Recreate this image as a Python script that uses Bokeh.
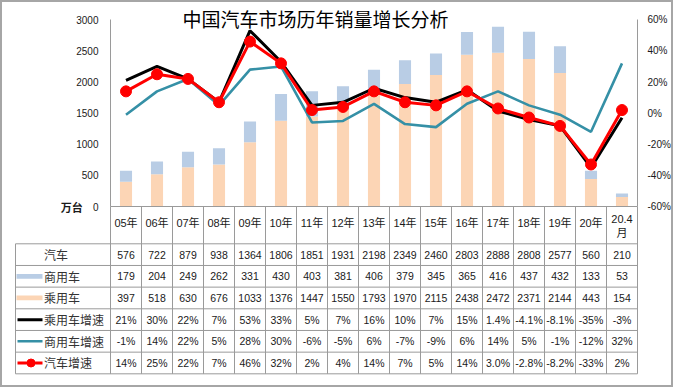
from bokeh.plotting import figure
from bokeh.models import Range1d, LinearAxis, FixedTicker, Label
from bokeh.core.properties import value
from bokeh.embed import file_html
from bokeh.resources import INLINE

# ---------------- data ----------------
categories = ["05年", "06年", "07年", "08年", "09年", "10年", "11年", "12年", "13年",
              "14年", "15年", "16年", "17年", "18年", "19年", "20年", "20.4\n月"]
total_sales = [576, 722, 879, 938, 1364, 1806, 1851, 1931, 2198, 2349, 2460, 2803, 2888, 2808, 2577, 560, 210]
commercial = [179, 204, 249, 262, 331, 430, 403, 381, 406, 379, 345, 365, 416, 437, 432, 133, 53]
passenger = [397, 518, 630, 676, 1033, 1376, 1447, 1550, 1793, 1970, 2115, 2438, 2472, 2371, 2144, 443, 154]
passenger_growth = [21, 30, 22, 7, 53, 33, 5, 7, 16, 10, 7, 15, 1.4, -4.1, -8.1, -35, -3]
commercial_growth = [-1, 14, 22, 5, 28, 30, -6, -5, 6, -7, -9, 6, 14, 5, -1, -12, 32]
total_growth = [14, 25, 22, 7, 46, 32, 2, 4, 14, 7, 5, 14, 3.0, -2.8, -8.2, -33, 2]
one_decimal_cols = [12, 13, 14]          # columns printed with one decimal in growth rows
left_ticks = [0, 500, 1000, 1500, 2000, 2500, 3000]
right_ticks = [-60, -40, -20, 0, 20, 40, 60]
row_names = ["汽车", "商用车", "乘用车", "乘用车增速", "商用车增速", "汽车增速"]
title_text = "中国汽车市场历年销量增长分析"

# ---------------- style ----------------
C_PASS = "#FCD5B5"
C_COMM = "#B9CDE5"
C_BLACK = "#000000"
C_TEAL = "#3590A6"
C_RED = "#FF0000"
C_GRID = "#9A9A9A"
C_TEXT = "#1A1A1A"
NUM_FONT_NAME = "Liberation Sans, Noto Sans CJK SC"
CJK_FONT_NAME = "Noto Sans CJK SC"
NUM_FONT = value(NUM_FONT_NAME)
CJK_FONT = value(CJK_FONT_NAME)

# ---------------- layout (page pixels) ----------------
W, H, M = 673, 387, 0
PX_LEFT, PX_RIGHT = 110, 637
PY_TOP, PY_ZERO = 19.3, 206
TBL_TOP, ROW_H, TBL_LEFT = 243.3, 21.67, 15
n = len(categories)
cw = (PX_RIGHT - PX_LEFT) / n
vmax, pmin, pmax = left_ticks[-1], right_ticks[0], right_ticks[-1]
vpp = vmax / (PY_ZERO - PY_TOP)


def xd(px):
    return (px - PX_LEFT) / cw - 0.5


def yv(py):
    return (PY_ZERO - py) * vpp


def yp(py):
    return pmin + yv(py) * (pmax - pmin) / vmax


def yk(py):
    return (py - TBL_TOP) / ROW_H


p = figure(width=W, height=H, output_backend="svg", toolbar_location=None,
           x_range=Range1d(xd(M), xd(M + W)), y_range=Range1d(yv(M + H), yv(M)),
           x_axis_type=None, y_axis_type=None, min_border=0, title=None)
p.extra_y_ranges = {"pct": Range1d(yp(M + H), yp(M)),
                    "tbl": Range1d(yk(M + H), yk(M))}
p.background_fill_color = "white"
p.border_fill_color = "white"
p.outline_line_color = "#A6A6A6"
p.outline_line_width = 3

idx = list(range(n))

# ---------------- bars ----------------
stack_top = [a + b for a, b in zip(passenger, commercial)]
p.vbar(x=idx, width=0.39, bottom=0, top=passenger, fill_color=C_PASS, line_color=None)
p.vbar(x=idx, width=0.39, bottom=passenger, top=stack_top, fill_color=C_COMM, line_color=None)

# ---------------- lines ----------------
p.line(idx, passenger_growth, y_range_name="pct", line_color=C_BLACK, line_width=3)
p.line(idx, commercial_growth, y_range_name="pct", line_color=C_TEAL, line_width=2.6)
p.line(idx, total_growth, y_range_name="pct", line_color=C_RED, line_width=3)
p.scatter(idx, total_growth, y_range_name="pct", size=11, fill_color=C_RED, line_color=C_RED)

# ---------------- axes ----------------
ly = LinearAxis(fixed_location=-0.5, bounds=(0, vmax),
                ticker=FixedTicker(ticks=left_ticks, minor_ticks=[]),
                major_tick_in=0, major_tick_out=0, minor_tick_in=0, minor_tick_out=0,
                major_label_standoff=12, axis_line_color=C_GRID,
                major_label_text_font=NUM_FONT_NAME, major_label_text_font_size="10px",
                major_label_text_color=C_TEXT)
p.add_layout(ly, "left")

ry = LinearAxis(y_range_name="pct", fixed_location=n - 0.5, bounds=(pmin, pmax),
                ticker=FixedTicker(ticks=right_ticks, minor_ticks=[]),
                major_label_overrides={t: f"{t}%" for t in right_ticks},
                major_tick_in=0, major_tick_out=0, minor_tick_in=0, minor_tick_out=0,
                major_label_standoff=10, axis_line_color=C_GRID,
                major_label_text_font=NUM_FONT_NAME, major_label_text_font_size="10px",
                major_label_text_color=C_TEXT)
p.add_layout(ry, "right")

single_line = [i for i, c in enumerate(categories) if "\n" not in c]
multi_line = [i for i, c in enumerate(categories) if "\n" in c]
bx = LinearAxis(fixed_location=0, bounds=(-0.5, n - 0.5),
                ticker=FixedTicker(ticks=single_line, minor_ticks=[]),
                major_label_overrides={i: categories[i] for i in single_line},
                major_tick_in=0, major_tick_out=0, minor_tick_in=0, minor_tick_out=0,
                major_label_standoff=10, axis_line_color=C_GRID,
                major_label_text_font=NUM_FONT_NAME, major_label_text_font_size="11px",
                major_label_text_color=C_TEXT)
p.add_layout(bx, "below")
bx2 = LinearAxis(fixed_location=0, bounds=(-0.5, n - 0.5),
                 ticker=FixedTicker(ticks=multi_line, minor_ticks=[]),
                 major_label_overrides={i: categories[i] for i in multi_line},
                 major_tick_in=0, major_tick_out=0, minor_tick_in=0, minor_tick_out=0,
                 major_label_standoff=6, axis_line_color=None,
                 major_label_text_font=NUM_FONT_NAME, major_label_text_font_size="11px",
                 major_label_text_color=C_TEXT)
p.add_layout(bx2, "below")

# ---------------- table grid ----------------
nrows = len(row_names)
hx0 = [xd(TBL_LEFT)] * (nrows + 1)
hx1 = [n - 0.5] * (nrows + 1)
hy = list(range(nrows + 1))
p.segment(x0=hx0, y0=hy, x1=hx1, y1=hy, y_range_name="tbl", line_color=C_GRID, line_width=1)
vx = [b - 0.5 for b in range(n + 1)]
p.segment(x0=vx, y0=[yk(PY_ZERO)] * len(vx), x1=vx, y1=[nrows] * len(vx),
          y_range_name="tbl", line_color=C_GRID, line_width=1)
p.segment(x0=[xd(TBL_LEFT)], y0=[0], x1=[xd(TBL_LEFT)], y1=[nrows],
          y_range_name="tbl", line_color=C_GRID, line_width=1)


# ---------------- table text ----------------
def pct_fmt(vals, decimals_cols):
    out = []
    for i, v in enumerate(vals):
        if i in decimals_cols:
            out.append(f"{v:.1f}%")
        else:
            out.append(f"{int(round(v))}%")
    return out


rows_text = [
    [str(v) for v in total_sales],
    [str(v) for v in commercial],
    [str(v) for v in passenger],
    pct_fmt(passenger_growth, one_decimal_cols),
    pct_fmt(commercial_growth, []),
    pct_fmt(total_growth, one_decimal_cols),
]
tx, ty, tt = [], [], []
for r, row in enumerate(rows_text):
    for i, s in enumerate(row):
        tx.append(i)
        ty.append(r + 0.5)
        tt.append(s)
p.text(x=tx, y=ty, text=tt, y_range_name="tbl", text_align="center", text_baseline="middle",
       text_font=NUM_FONT, text_font_size="10.5px", text_color=C_TEXT)

# row headers
p.text(x=[xd(43.5)] * nrows, y=[r + 0.5 for r in range(nrows)], text=row_names,
       y_range_name="tbl", text_align="left", text_baseline="middle",
       text_font=CJK_FONT, text_font_size="12px", text_color="#333333")

# legend keys inside header column
sw_l, sw_r = xd(16), xd(42)
p.quad(left=[sw_l, sw_l], right=[sw_r, sw_r], bottom=[1.39, 2.39], top=[1.61, 2.61],
       y_range_name="tbl", fill_color=[C_COMM, C_PASS], line_color=None)
p.segment(x0=[xd(17)] * 3, x1=[sw_r] * 3, y0=[3.5, 4.5, 5.5], y1=[3.5, 4.5, 5.5],
          y_range_name="tbl", line_color=[C_BLACK, C_TEAL, C_RED], line_width=[3, 2.6, 3])
p.scatter(x=[xd(30.5)], y=[5.5], y_range_name="tbl", size=8, fill_color=C_RED, line_color=C_RED)

# ---------------- labels ----------------
p.add_layout(Label(x=xd(71.3), y=0, text="万台", text_align="center", text_baseline="middle",
                   text_font=CJK_FONT_NAME, text_font_size="11px", text_font_style="bold",
                   text_color=C_TEXT))
p.add_layout(Label(x=xd(315), y=yv(18), text=title_text, text_align="center",
                   text_baseline="middle", text_font=CJK_FONT_NAME, text_font_size="19px",
                   text_color="#000000"))

open("out.html", "w").write(file_html(p, INLINE))
